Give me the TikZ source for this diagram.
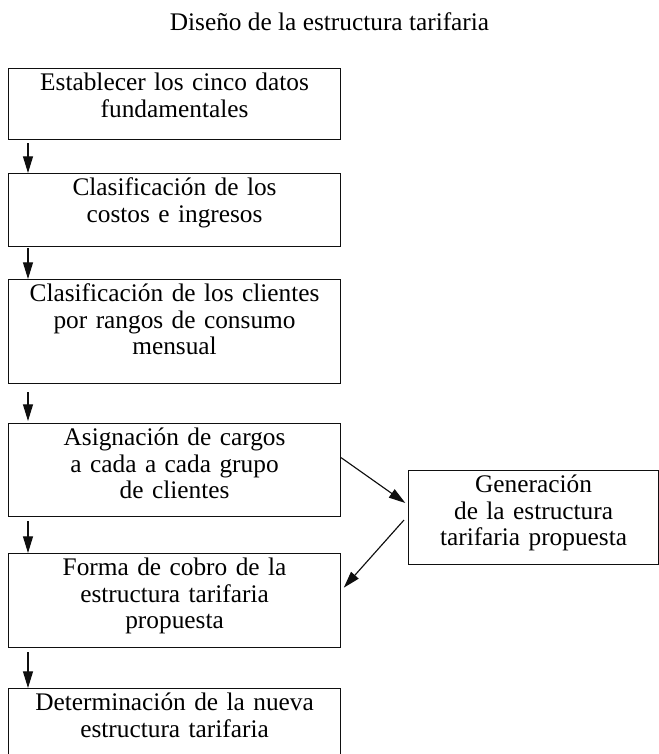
\documentclass[tikz,border=0pt]{standalone}
\usepackage{fontspec}
\setmainfont{Liberation Serif}
\usepackage{tikz}
\usetikzlibrary{arrows.meta}
\definecolor{inkblack}{RGB}{15, 15, 15}

\begin{document}
\begin{tikzpicture}[x=0.75pt, y=-0.75pt,
        caja/.style={draw=inkblack, line width=0.85pt, anchor=north west,
            inner xsep=4pt, inner ysep=0pt, text width=241pt, align=center,
            text height=16.5pt, font=\fontsize{19}{20}\selectfont},
        flecha/.style={draw=inkblack, line width=0.85pt,
            -{Triangle[length=12.5pt, width=7.5pt]}}]
        % 画布
        \useasboundingbox (0,0) rectangle (659,754);

        % 标题
        \node[font=\fontsize{19}{20}\selectfont, anchor=base] (titulo) at (329.5,30) {Diseño de la estructura tarifaria};

        % 左列方框
        \node[caja, text depth=36.75pt] (b1) at (8,68) {Establecer los cinco datos\\fundamentales};
        \node[caja, text depth=38.25pt] (b2) at (8,173) {Clasificación de los\\costos e ingresos};
        \node[caja, text depth=61.5pt] (b3) at (8,279) {Clasificación de los clientes\\por rangos de consumo\\mensual};
        \node[caja, text depth=53.25pt] (b4) at (8,423) {Asignación de cargos\\a cada a cada grupo\\de clientes};
        \node[caja, text depth=54pt] (b5) at (8,553) {Forma de cobro de la\\estructura tarifaria\\propuesta};
        \node[caja, text depth=35.25pt] (b6) at (8,688) {Determinación de la nueva\\estructura tarifaria};

        % 右侧方框
        \node[caja, text width=179.5pt, text depth=54pt] (gen) at (408,470) {Generación\\de la estructura\\tarifaria propuesta};

        % 箭头
        \draw[flecha] ([xshift=15pt,yshift=-2.5pt]b1.south west) -- ([xshift=15pt]b2.north west);
        \draw[flecha] ([xshift=15pt,yshift=-1pt]b2.south west) -- ([xshift=15pt]b3.north west);
        \draw[flecha] ([xshift=15pt,yshift=-6pt]b3.south west) -- ([xshift=15pt,yshift=1.5pt]b4.north west);
        \draw[flecha] ([xshift=15pt,yshift=-3pt]b4.south west) -- ([xshift=15pt]b5.north west);
        \draw[flecha] ([xshift=15pt,yshift=-3pt]b5.south west) -- ([xshift=15pt]b6.north west);
        \draw[flecha] ([yshift=-26pt]b4.north east) -- ([xshift=-2pt,yshift=-24.75pt]gen.north west);
        \draw[flecha] ([xshift=-3pt,yshift=-37.5pt]gen.north west) -- ([xshift=2pt,yshift=-26pt]b5.north east);
    \end{tikzpicture}
\end{document}
